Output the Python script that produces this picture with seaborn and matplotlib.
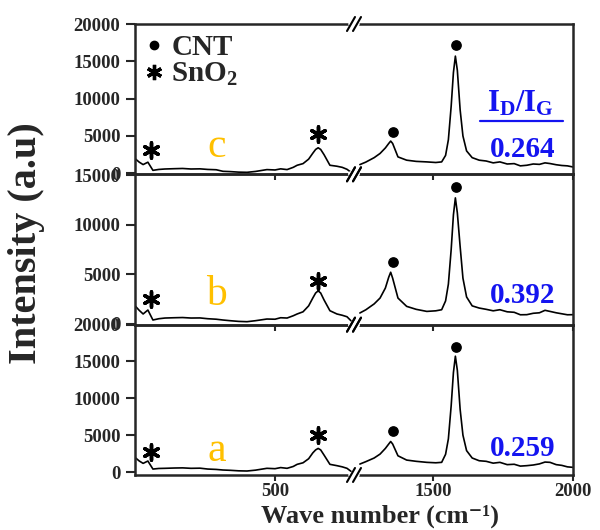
import numpy as np
import pandas as pd
import matplotlib
matplotlib.use("Agg")
import matplotlib.pyplot as plt
import seaborn as sns
from matplotlib.lines import Line2D

# ---------------- data ----------------
wavenumber = [0, 15, 29, 46, 64, 85, 107, 140, 170, 200, 232, 260, 290, 314, 340, 370,
              400, 430, 471, 500, 520, 543, 565, 579, 600, 620, 635, 645, 654, 663, 675,
              696, 721, 740, 757, 771,
              1239, 1260, 1290, 1311, 1330, 1342, 1349, 1356, 1375, 1406, 1440, 1478,
              1510, 1531, 1545, 1555, 1565, 1573, 1580, 1587, 1597, 1607, 1620, 1640,
              1665, 1690, 1715, 1739, 1765, 1790, 1812, 1835, 1858, 1880, 1900, 1918,
              1940, 1960, 1980, 2000]

int_c = [1980, 1500, 1170, 1490, 400, 520, 580, 620, 650, 580, 600, 520, 480, 270, 230, 160,
         135, 250, 500, 450, 600, 500, 800, 1080, 1300, 1900, 2700, 3200, 3420, 3200, 2500,
         1080, 950, 800, 540, 150,
         1170, 1500, 2100, 2660, 3400, 4000, 4320, 4000, 2200, 1760, 1600, 1530,
         1450, 1530, 2400, 4500, 9000, 13500, 15700, 13800, 8500, 5000, 3000, 2100,
         1760, 1650, 1400, 1530, 1250, 1300, 1000, 1080, 1250, 1200, 1400, 1310,
         1150, 1050, 1000, 850]

int_b = [1810, 1350, 980, 1380, 370, 500, 570, 600, 620, 570, 580, 500, 450, 370, 300, 230,
         200, 300, 470, 450, 600, 570, 800, 980, 1200, 1800, 2600, 3100, 3320, 3100, 2400,
         1310, 980, 850, 700, 300,
         1080, 1400, 2000, 2590, 3600, 4700, 5200, 4600, 2590, 1750, 1450, 1240,
         1300, 1410, 2300, 4000, 7500, 11000, 12720, 11200, 7800, 4600, 2700, 1800,
         1580, 1450, 1300, 1410, 1200, 1150, 900, 910, 1050, 1100, 1350, 1240,
         1100, 1000, 900, 910]

int_a = [1980, 1500, 1170, 1490, 400, 480, 500, 540, 560, 500, 520, 400, 350, 270, 230, 160,
         135, 250, 500, 450, 600, 500, 750, 1040, 1250, 1800, 2600, 3000, 3200, 3000, 2300,
         1040, 860, 700, 500, 100,
         1080, 1400, 1900, 2430, 3200, 3800, 4140, 3800, 2200, 1620, 1450, 1310,
         1250, 1310, 2400, 4500, 9000, 13500, 15720, 13800, 8500, 5000, 2900, 1900,
         1530, 1450, 1200, 1310, 1000, 1050, 800, 860, 950, 1100, 1350, 1310,
         1000, 900, 700, 630]

sample_names = ["c", "b", "a"]
ratio_labels = ["0.264", "0.392", "0.259"]

sno2_peak_wn = [56, 654]
cnt_peak_wn = [1356, 1582]
star_y_c = [3070, 5230]
star_y_b = [2490, 4330]
star_y_a = [2740, 5000]
dot_y_c = [5580, 17200]
dot_y_b = [6210, 13830]
dot_y_a = [5500, 16980]

ylim_c = (-135, 20000)
ylim_b = (-100, 15100)
ylim_a = (-405, 20000)
yticks_c = [0, 5000, 10000, 15000, 20000]
yticks_b = [0, 5000, 10000, 15000]
yticks_a = [0, 5000, 10000, 15000, 20000]

left_range = (0, 782)
right_range = (1218, 2000)
xticks_left = [500]
xticks_right = [1500, 2000]

# ---------------- style ----------------
sns.set_style("ticks")
plt.rcParams["font.family"] = ["Liberation Serif", "DejaVu Serif"]
plt.rcParams["font.weight"] = "bold"
plt.rcParams["mathtext.fontset"] = "custom"
plt.rcParams["mathtext.rm"] = "Liberation Serif:bold"
plt.rcParams["mathtext.bf"] = "Liberation Serif:bold"
plt.rcParams["mathtext.it"] = "Liberation Serif:bold"

ORANGE = "#FFC000"
BLUE = "#1414F0"

fig, axes = plt.subplots(3, 2, figsize=(6, 5.3), dpi=100, sharex="col")
fig.subplots_adjust(left=0.225, right=0.955, top=0.9547, bottom=0.1038,
                    wspace=0, hspace=0)

rows = [
    (int_c, star_y_c, dot_y_c, ylim_c, yticks_c, 0.114),
    (int_b, star_y_b, dot_y_b, ylim_b, yticks_b, 0.132),
    (int_a, star_y_a, dot_y_a, ylim_a, yticks_a, 0.093),
]

ratio_y = [0.168, 0.192, 0.179]

for i, (inten, sy, dy, ylim, yt, letter_y) in enumerate(rows):
    df = pd.DataFrame({"wn": wavenumber, "I": inten})
    axL, axR = axes[i, 0], axes[i, 1]
    dl = df[df.wn <= left_range[1]]
    dr = df[df.wn >= right_range[0]]
    sns.lineplot(data=dl, x="wn", y="I", ax=axL, color="black", lw=1.2,
                 sort=False, estimator=None)
    sns.lineplot(data=dr, x="wn", y="I", ax=axR, color="black", lw=1.2,
                 sort=False, estimator=None)

    # peak markers
    axL.scatter(sno2_peak_wn, sy, marker=(6, 2, 0), s=120, linewidths=2.5,
                color="black", zorder=4)
    axR.scatter(cnt_peak_wn, dy, marker="o", s=45, color="black", zorder=4)

    for ax in (axL, axR):
        ax.set_facecolor("none")
        ax.set_ylim(*ylim)
        ax.set_xlabel("")
        ax.set_ylabel("")
        for sp in ax.spines.values():
            sp.set_linewidth(1.8)
        ax.tick_params(axis="x", direction="out", length=4, width=1.5,
                       labelsize=13.5, pad=2, top=False)
    axL.set_xlim(*left_range)
    axR.set_xlim(*right_range)
    axL.set_xticks(xticks_left)
    axR.set_xticks(xticks_right)
    axL.set_yticks(yt)
    axL.tick_params(axis="y", direction="out", length=6.5, width=1.5,
                    labelsize=13.5, pad=4)
    axR.tick_params(axis="y", left=False, labelleft=False)
    axL.spines["right"].set_visible(False)
    axR.spines["left"].set_visible(False)

    axL.text(0.374, letter_y, sample_names[i], transform=axL.transAxes,
             color=ORANGE, fontsize=30, fontweight="normal",
             ha="center", va="baseline")
    axR.text(0.772, ratio_y[i], ratio_labels[i], transform=axR.transAxes,
             color=BLUE, fontsize=21, fontweight="bold", ha="center", va="center")

# I_D / I_G header with underline
axes[0, 1].text(0.76, 0.47, r"$\mathbf{I_D/I_G}$", transform=axes[0, 1].transAxes,
                color=BLUE, fontsize=22, ha="center", va="center")
axes[0, 1].plot([0.575, 0.954], [0.356, 0.356], transform=axes[0, 1].transAxes,
                color=BLUE, lw=1.6, clip_on=False)

# legend
handles = [
    Line2D([], [], marker="o", color="black", ls="none", markersize=6),
    Line2D([], [], marker=(6, 2, 0), color="black", ls="none", markersize=11,
           markeredgewidth=2.4),
]
axes[0, 0].legend(handles, ["CNT", "SnO$_2$"], loc="upper left",
                  bbox_to_anchor=(0.0, 1.0), frameon=False, fontsize=21,
                  handlelength=0.6, handletextpad=0.3, labelspacing=0.0,
                  borderaxespad=0.15, borderpad=0.2)

# axis break marks "//"
W, H = fig.get_size_inches() * fig.dpi
px, py = 1.0 / W, 1.0 / H
for r in range(3):
    pos = axes[r, 0].get_position()
    xb = pos.x1
    for yb in (pos.y0, pos.y1):
        fig.add_artist(Line2D([xb - 3 * px, xb + 3 * px], [yb, yb],
                              transform=fig.transFigure, color="white", lw=4,
                              zorder=5))
        for c in (xb - 3 * px, xb + 3 * px):
            fig.add_artist(Line2D([c - 4 * px, c + 4 * px], [yb - 7 * py, yb + 7 * py],
                                  transform=fig.transFigure, color="black",
                                  lw=1.5, zorder=6))

fig.text(27 / 600, 1 - 243 / 530, "Intensity (a.u)", rotation=90,
         ha="center", va="center", fontsize=29, fontweight="bold")
fig.text(0.633, 0.004, "Wave number (cm\u207b\u00b9)", ha="center", va="bottom",
         fontsize=19, fontweight="bold",
         family=["Liberation Serif", "DejaVu Serif"])

fig.savefig("out.png", dpi=100)
